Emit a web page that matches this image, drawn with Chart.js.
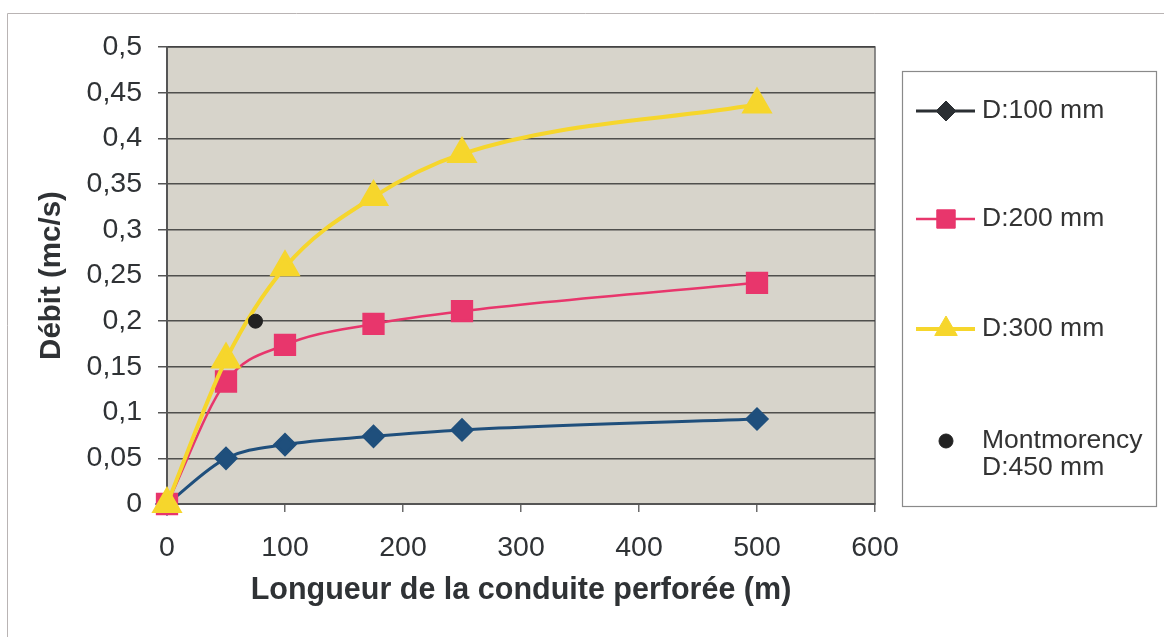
<!DOCTYPE html>
<html>
<head>
<meta charset="utf-8">
<script src="https://cdn.jsdelivr.net/npm/chart.js@4"></script>
<style>
    html, body { margin: 0; padding: 0; background: #fff; }
    #wrap { width: 1164px; height: 637px; position: relative; }
</style>
</head>
<body>
<div id="wrap"><canvas id="debitChart" width="1164" height="637"></canvas></div>
<script>
// longueur de conduite (m)
const lengths = [0, 50, 100, 175, 250, 500];
const d100 = [0, 0.05, 0.065, 0.074, 0.081, 0.093];
const d200 = [0, 0.134, 0.174, 0.197, 0.211, 0.242];
const d300 = [0, 0.158, 0.259, 0.336, 0.383, 0.437];
const montX = [75];
const montY = [0.2];

const seriesLabels = ['D:100 mm', 'D:200 mm', 'D:300 mm', 'Montmorency\nD:450 mm'];
const yTicks = [0, 0.05, 0.1, 0.15, 0.2, 0.25, 0.3, 0.35, 0.4, 0.45, 0.5];
const xTicks = [0, 100, 200, 300, 400, 500, 600];

const FONT = "'Liberation Sans', Arial, sans-serif";

function toPoints(xs, ys) {
    return xs.map((x, i) => ({ x: x, y: ys[i] }));
}

function fmt(v) {
    return String(+v.toFixed(2)).replace('.', ',');
}

// fond gris + cadre de la zone de tracé
const plotBackground = {
    id: 'plotBackground',
    beforeDraw(chart) {
        const { ctx, chartArea: a } = chart;
        ctx.save();
        ctx.fillStyle = '#d7d4cb';
        ctx.fillRect(a.left, a.top, a.right - a.left, a.bottom - a.top);
        ctx.strokeStyle = '#6b6b6b';
        ctx.lineWidth = 1.5;
        ctx.strokeRect(a.left, a.top, a.right - a.left, a.bottom - a.top);
        // cadre extérieur
        ctx.strokeStyle = '#b9b4b4';
        ctx.lineWidth = 1;
        ctx.beginPath();
        ctx.moveTo(7.5, 637);
        ctx.lineTo(7.5, 13.5);
        ctx.lineTo(1164, 13.5);
        ctx.stroke();
        ctx.restore();
    }
};

// légende encadrée à droite
const boxLegend = {
    id: 'boxLegend',
    afterDraw(chart) {
        const { ctx, chartArea: a } = chart;
        const left = a.right + 27, top = 71, right = 1156, bottom = 506;
        ctx.save();
        ctx.fillStyle = '#fff';
        ctx.fillRect(left, top, right - left, bottom - top);
        ctx.strokeStyle = '#8a8a8a';
        ctx.lineWidth = 1.2;
        ctx.strokeRect(left + 0.5, top + 0.5, right - left, bottom - top);

        const rows = [111, 219, 329, 441];
        ctx.font = '26.5px ' + FONT;
        ctx.textBaseline = 'middle';
        chart.data.datasets.forEach((ds, i) => {
            const y = rows[i];
            const mx = left + 44;
            const col = ds.legendColor || ds.borderColor;
            if (ds.showLine !== false) {
                ctx.strokeStyle = col;
                ctx.lineWidth = ds.borderWidth;
                ctx.beginPath();
                ctx.moveTo(left + 14, y);
                ctx.lineTo(left + 73, y);
                ctx.stroke();
            }
            ctx.fillStyle = col;
            ctx.strokeStyle = col;
            ctx.lineWidth = 1;
            Chart.helpers.drawPoint(ctx, {
                pointStyle: ds.pointStyle,
                radius: ds.legendRadius,
                rotation: 0,
                borderWidth: 1
            }, mx, y);
            ctx.fillStyle = '#333';
            ds.label.split('\n').forEach((line, k) => {
                ctx.fillText(line, left + 80, y + k * 27);
            });
        });
        ctx.restore();
    }
};

const ctx = document.getElementById('debitChart').getContext('2d');

new Chart(ctx, {
    type: 'line',
    data: {
        datasets: [{
            label: seriesLabels[0],
            data: toPoints(lengths, d100),
            borderColor: '#1f4f7c',
            backgroundColor: '#1f4f7c',
            pointBackgroundColor: '#1f4f7c',
            pointBorderColor: '#1f4f7c',
            legendColor: '#2b2f33',
            borderWidth: 3,
            pointStyle: 'rectRot',
            pointRadius: 10,
            legendRadius: 10,
            clip: false,
            order: 3,
            cubicInterpolationMode: 'monotone'
        }, {
            label: seriesLabels[1],
            data: toPoints(lengths, d200),
            borderColor: '#e8366c',
            backgroundColor: '#e8366c',
            pointBackgroundColor: '#e8366c',
            pointBorderColor: '#e8366c',
            borderWidth: 2.5,
            pointStyle: 'rect',
            pointRadius: 14,
            legendRadius: 13,
            clip: false,
            order: 2,
            cubicInterpolationMode: 'monotone'
        }, {
            label: seriesLabels[2],
            data: toPoints(lengths, d300),
            borderColor: '#f6d62c',
            backgroundColor: '#f6d62c',
            pointBackgroundColor: '#f6d62c',
            pointBorderColor: '#f6d62c',
            borderWidth: 4,
            pointStyle: 'triangle',
            pointRadius: 14,
            legendRadius: 13,
            clip: false,
            order: 1,
            cubicInterpolationMode: 'monotone'
        }, {
            label: seriesLabels[3],
            data: toPoints(montX, montY),
            showLine: false,
            borderColor: '#222',
            backgroundColor: '#222',
            pointBackgroundColor: '#222',
            pointBorderColor: '#222',
            borderWidth: 1,
            pointStyle: 'circle',
            pointRadius: 7,
            legendRadius: 7,
            clip: false,
            order: 0
        }]
    },
    options: {
        responsive: false,
        animation: false,
        layout: {
            padding: { left: 34, top: 47, right: 289, bottom: 26 }
        },
        plugins: {
            legend: { display: false },
            tooltip: { enabled: false }
        },
        scales: {
            x: {
                type: 'linear',
                min: 0,
                max: 600,
                afterBuildTicks: scale => { scale.ticks = xTicks.map(v => ({ value: v })); },
                afterFit: scale => { scale.height = 107; },
                grid: {
                    drawOnChartArea: false,
                    drawTicks: true,
                    tickLength: 8,
                    color: '#6b6b6b',
                    lineWidth: 1.5
                },
                border: { display: true, color: '#555', width: 2 },
                ticks: {
                    padding: 19,
                    color: '#2f3235',
                    font: { family: FONT, size: 28.5 },
                    callback: v => fmt(v)
                },
                title: {
                    display: true,
                    text: 'Longueur de la conduite perforée (m)',
                    color: '#2f3235',
                    font: { family: FONT, size: 30.5, weight: 'bold' },
                    padding: { top: 4, bottom: 2 }
                }
            },
            y: {
                min: 0,
                max: 0.5,
                afterBuildTicks: scale => { scale.ticks = yTicks.map(v => ({ value: v })); },
                afterFit: scale => { scale.width = 133; },
                grid: {
                    drawTicks: true,
                    tickLength: 9,
                    color: 'rgba(55,55,55,0.85)',
                    lineWidth: 1.5
                },
                border: { display: true, color: '#555', width: 2 },
                ticks: {
                    padding: 16,
                    color: '#2f3235',
                    font: { family: FONT, size: 28.5 },
                    callback: v => fmt(v)
                },
                title: {
                    display: true,
                    text: 'Débit (mc/s)',
                    color: '#2f3235',
                    font: { family: FONT, size: 29.5, weight: 'bold' },
                    padding: { top: 0, bottom: 0 }
                }
            }
        }
    },
    plugins: [plotBackground, boxLegend]
});
</script>
</body>
</html>
